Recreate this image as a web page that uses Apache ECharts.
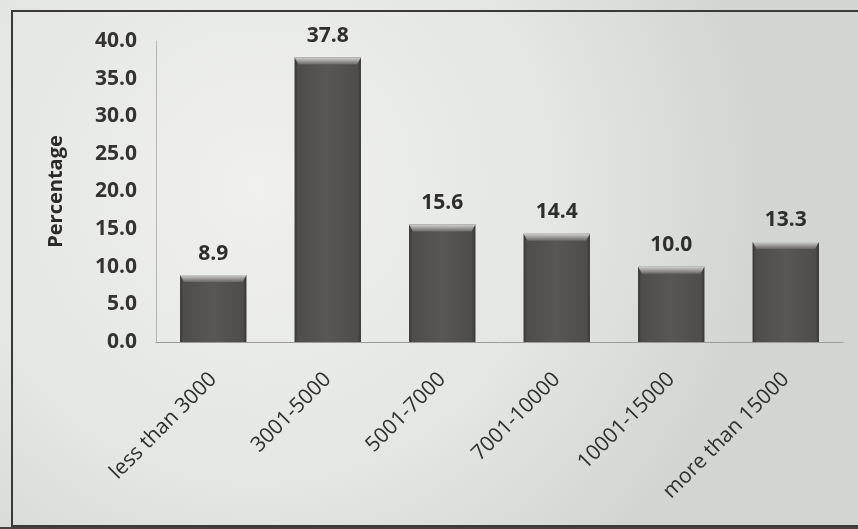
<!DOCTYPE html>
<html>
<head>
<meta charset="utf-8">
<script src="https://cdn.jsdelivr.net/npm/echarts@6/dist/echarts.min.js"></script>
<style>
  html, body { margin: 0; padding: 0; background: #d9dcd8; }
  #chart { width: 858px; height: 529px; }
</style>
</head>
<body>
<div id="chart"></div>
<script>
// Monthly income groups and share of respondents (%)
const categories = ['less than 3000', '3001-5000', '5001-7000', '7001-10000', '10001-15000', 'more than 15000'];
const percentages = [8.9, 37.8, 15.6, 14.4, 10.0, 13.3];
const yTicks = [0, 5, 10, 15, 20, 25, 30, 35, 40];

const chart = echarts.init(document.getElementById('chart'), null, { renderer: 'canvas' });
const FONT = 'Open Sans';

// Light bevel drawn on the top edge of each bar
function renderBevel(params, api) {
  const idx = api.value(0);
  const val = api.value(1);
  const top = api.coord([idx, val]);
  const bandW = api.size([1, 0])[0];
  const w = bandW * 0.58;
  const x0 = top[0] - w / 2;
  const x1 = top[0] + w / 2;
  const y = top[1];
  const b = 7;
  return {
    type: 'group',
    children: [
      {
        type: 'polygon',
        shape: { points: [[x0, y], [x1, y], [x1 - 4, y + b], [x0 + 4, y + b]] },
        style: {
          fill: new echarts.graphic.LinearGradient(0, 0, 0, 1, [
            { offset: 0, color: '#cfcfcc' },
            { offset: 0.45, color: '#a3a2a0' },
            { offset: 1, color: '#6a6767' }
          ])
        }
      }
    ]
  };
}

chart.setOption({
  backgroundColor: new echarts.graphic.RadialGradient(0.3, 0.35, 0.95, [
    { offset: 0, color: '#f0f1ef' },
    { offset: 0.6, color: '#e4e6e3' },
    { offset: 1, color: '#d2d5d1' }
  ]),
  animation: false,
  graphic: [
    {
      type: 'rect',
      shape: { x: 12, y: 11, width: 860, height: 515 },
      style: { fill: 'none', stroke: '#3a3838', lineWidth: 2 },
      z: 10
    },
    {
      type: 'rect',
      shape: { x: 0, y: 527, width: 858, height: 4 },
      style: { fill: '#4a3f40' },
      z: 10
    }
  ],
  grid: { left: 156, right: 15, top: 41, bottom: 187, containLabel: false },
  xAxis: {
    type: 'category',
    data: categories,
    axisLine: { show: true, lineStyle: { color: '#9a9a98', width: 1 } },
    axisTick: { show: false },
    axisLabel: {
      rotate: 45,
      interval: 0,
      margin: 34,
      fontFamily: FONT,
      fontSize: 21,
      color: '#2e2e2e'
    }
  },
  yAxis: {
    type: 'value',
    min: yTicks[0],
    max: yTicks[yTicks.length - 1],
    interval: 5,
    name: 'Percentage',
    nameLocation: 'middle',
    nameGap: 90,
    nameRotate: 90,
    nameTextStyle: { fontFamily: FONT, fontWeight: 'bold', fontSize: 20, color: '#2a2a2a' },
    axisLine: { show: true, lineStyle: { color: '#b4b4b2', width: 1 } },
    axisTick: { show: false },
    splitLine: { show: false },
    axisLabel: {
      margin: 19,
      fontFamily: FONT,
      fontWeight: 'bold',
      fontSize: 21,
      color: '#333333',
      formatter: v => v.toFixed(1)
    }
  },
  series: [
    {
      type: 'bar',
      data: percentages,
      barWidth: '58%',
      itemStyle: {
        color: new echarts.graphic.LinearGradient(0, 0, 1, 0, [
          { offset: 0, color: '#373535' },
          { offset: 0.05, color: '#4f4c4c' },
          { offset: 0.5, color: '#595656' },
          { offset: 0.95, color: '#4f4c4c' },
          { offset: 1, color: '#363434' }
        ])
      },
      label: {
        show: true,
        position: 'top',
        distance: 11,
        fontFamily: FONT,
        fontWeight: 'bold',
        fontSize: 21,
        color: '#2e2e2e',
        formatter: p => p.value.toFixed(1)
      }
    },
    {
      type: 'custom',
      renderItem: renderBevel,
      data: percentages.map((v, i) => [i, v]),
      z: 5,
      silent: true
    }
  ]
});
</script>
</body>
</html>
